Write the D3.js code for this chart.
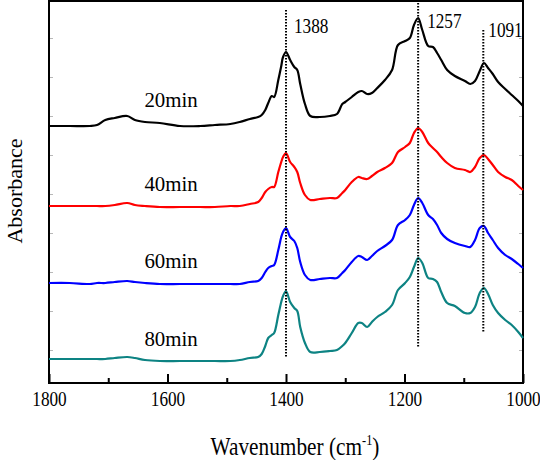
<!DOCTYPE html>
<html><head><meta charset="utf-8">
<script src="https://cdn.jsdelivr.net/npm/d3@7"></script>
<style>
body{margin:0;background:#fff}
svg{display:block}
text{font-family:"Liberation Serif","Times New Roman",serif;fill:#000}
</style>
</head><body><svg id="c" width="540" height="460"></svg>
<script>
// ---- data ----
const wavenumbers = [1800,1765,1731,1719,1705,1689,1668,1655,1638,1613,
  1579,1545,1520,1494,1478,1461,1447,1441,1435,1430,
  1424,1420,1413,1408,1405,1400,1393,1386,1381,1376,
  1368,1359,1343,1326,1314,1305,1300,1289,1278,1272,
  1263,1255,1246,1233,1221,1211,1199,1191,1184,1177,
  1170,1160,1152,1145,1138,1128,1115,1098,1089,1081,
  1073,1066,1059,1051,1042,1030,1019,1008,1000];
const abs20min = [2.57,2.57,2.57,2.58,2.63,2.65,2.67,2.63,2.61,2.60,
  2.57,2.57,2.58,2.59,2.61,2.64,2.66,2.68,2.73,2.80,
  2.87,2.86,3.03,3.17,3.26,3.31,3.23,3.16,3.13,2.99,
  2.79,2.67,2.66,2.67,2.69,2.79,2.81,2.86,2.91,2.92,
  2.89,2.90,2.95,3.03,3.13,3.38,3.42,3.45,3.58,3.65,
  3.53,3.37,3.36,3.30,3.23,3.13,3.07,3.02,2.99,3.02,
  3.12,3.20,3.15,3.09,3.01,2.94,2.88,2.82,2.77];
const abs40min = [1.77,1.77,1.77,1.77,1.77,1.78,1.80,1.78,1.77,1.76,
  1.76,1.76,1.76,1.77,1.77,1.79,1.81,1.85,1.91,1.94,
  1.96,1.96,2.11,2.21,2.26,2.30,2.21,2.16,2.11,2.00,
  1.88,1.83,1.84,1.85,1.85,1.90,1.93,2.01,2.06,2.05,
  2.04,2.07,2.11,2.15,2.20,2.31,2.36,2.40,2.50,2.55,
  2.51,2.40,2.35,2.31,2.26,2.20,2.15,2.13,2.11,2.16,
  2.25,2.28,2.24,2.18,2.11,2.06,2.03,1.97,1.93];
const abs60min = [1.00,1.00,0.99,1.00,1.00,1.01,1.02,1.01,1.00,0.99,
  0.99,0.99,0.99,0.99,0.99,1.01,1.02,1.05,1.11,1.15,
  1.17,1.18,1.33,1.46,1.51,1.55,1.46,1.42,1.35,1.21,
  1.08,1.03,1.04,1.05,1.05,1.10,1.13,1.21,1.27,1.26,
  1.23,1.27,1.32,1.37,1.43,1.58,1.63,1.68,1.78,1.85,
  1.80,1.68,1.64,1.58,1.50,1.44,1.40,1.37,1.36,1.43,
  1.55,1.57,1.50,1.43,1.35,1.28,1.24,1.19,1.15];
const abs80min = [0.24,0.24,0.24,0.24,0.24,0.25,0.26,0.25,0.23,0.22,
  0.22,0.22,0.22,0.22,0.23,0.25,0.26,0.29,0.37,0.45,
  0.48,0.50,0.68,0.81,0.87,0.92,0.81,0.75,0.72,0.56,
  0.40,0.31,0.31,0.32,0.33,0.37,0.40,0.50,0.60,0.60,
  0.56,0.61,0.66,0.71,0.78,0.93,1.00,1.06,1.16,1.25,
  1.20,1.05,1.04,1.01,0.91,0.80,0.77,0.70,0.70,0.76,
  0.90,0.95,0.89,0.78,0.70,0.63,0.58,0.51,0.45];
const seriesNames = ["20min","40min","60min","80min"];
const xMajorTicks = [1800,1600,1400,1200,1000];
const xMinorTicks = [1700,1500,1300,1100];
const yFaintTicks = [0.33,0.72,1.11,1.50,1.89,2.28,2.67,3.06,3.45];
const peakLabels = ["1388","1257","1091"];
const peakWavenumbers = [1400,1177,1067];
const peakLineTop = [3.73,3.80,3.53];
const peakLineBottom = [0.25,0.35,0.51];

// ---- layout / style ----
const seriesColors = ["#000000","#ff0000","#0000ff","#0d8383"];
const seriesLabelWn = 1594;
const seriesLabelY = [2.76,1.92,1.15,0.37];
const peakLabelY = [3.50,3.55,3.46];
const peakLabelDx = [8,9,5];
const L=49, R=523, T=1, B=383;

const svg = d3.select("#c");
const x = d3.scaleLinear().domain([1800,1000]).range([L,R]);
const y = d3.scaleLinear().domain([0,3.82]).range([B,T]);

// faint side ticks
const gl = svg.append("g").attr("transform",`translate(${L},0)`)
  .call(d3.axisRight(y).tickValues(yFaintTicks).tickSize(4).tickFormat(""));
const gr = svg.append("g").attr("transform",`translate(${R},0)`)
  .call(d3.axisLeft(y).tickValues(yFaintTicks).tickSize(4).tickFormat(""));
[gl,gr].forEach(g=>{g.select(".domain").remove(); g.selectAll("line").attr("stroke","#b8b8b8").attr("stroke-width",1);});

// bottom axis
const gb = svg.append("g").attr("transform",`translate(0,${B})`)
  .call(d3.axisBottom(x).tickValues(xMajorTicks).tickSize(-9).tickPadding(0).tickFormat(d3.format("d")));
gb.select(".domain").remove();
gb.selectAll("line").attr("stroke","#000").attr("stroke-width",2);
gb.selectAll("text").attr("y",23).attr("dy",0).attr("font-size",21)
  .attr("transform","scale(0.82,1)").style("font-family",'"Liberation Serif","Times New Roman",serif');
const gm = svg.append("g").attr("transform",`translate(0,${B})`)
  .call(d3.axisBottom(x).tickValues(xMinorTicks).tickSize(-5).tickFormat(""));
gm.select(".domain").remove();
gm.selectAll("line").attr("stroke","#000").attr("stroke-width",2);

// frame
svg.append("rect").attr("x",L).attr("y",T).attr("width",R-L).attr("height",B-T)
  .attr("fill","none").attr("stroke","#000").attr("stroke-width",2);

// curves
const series = [abs20min,abs40min,abs60min,abs80min];
const line = d3.line().x(d=>x(d[0])).y(d=>y(d[1])).curve(d3.curveCatmullRom.alpha(0.5));
series.forEach((vals,i)=>{
  const pts = wavenumbers.map((w,j)=>[w,vals[j]]);
  svg.append("path").attr("d",line(pts)).attr("fill","none")
    .attr("stroke",seriesColors[i]).attr("stroke-width",2.2).attr("stroke-linejoin","round");
  svg.append("text").attr("transform",`translate(${x(seriesLabelWn)},${y(seriesLabelY[i])}) scale(0.95,1)`)
    .attr("text-anchor","middle").attr("font-size",22).text(seriesNames[i]);
});

// peak markers
peakWavenumbers.forEach((w,i)=>{
  svg.append("line").attr("x1",x(w)).attr("x2",x(w))
    .attr("y1",y(peakLineTop[i])).attr("y2",y(peakLineBottom[i]))
    .attr("stroke","#000").attr("stroke-width",2).attr("stroke-dasharray","1.5,1.5");
  svg.append("text").attr("transform",`translate(${x(w)+peakLabelDx[i]},${y(peakLabelY[i])}) scale(0.82,1)`)
    .attr("font-size",21).text(peakLabels[i]);
});

// axis titles
const xt = svg.append("text").attr("transform",`translate(${(L+R)/2+9},455) scale(0.82,1)`)
  .attr("text-anchor","middle").attr("font-size",26);
xt.append("tspan").text("Wavenumber (cm");
xt.append("tspan").attr("font-size",15).attr("dy",-10).text("-1");
xt.append("tspan").attr("dy",10).text(")");
svg.append("text").attr("transform","translate(22,191) rotate(-90)")
  .attr("text-anchor","middle").attr("font-size",22).text("Absorbance");
</script>
</body></html>
